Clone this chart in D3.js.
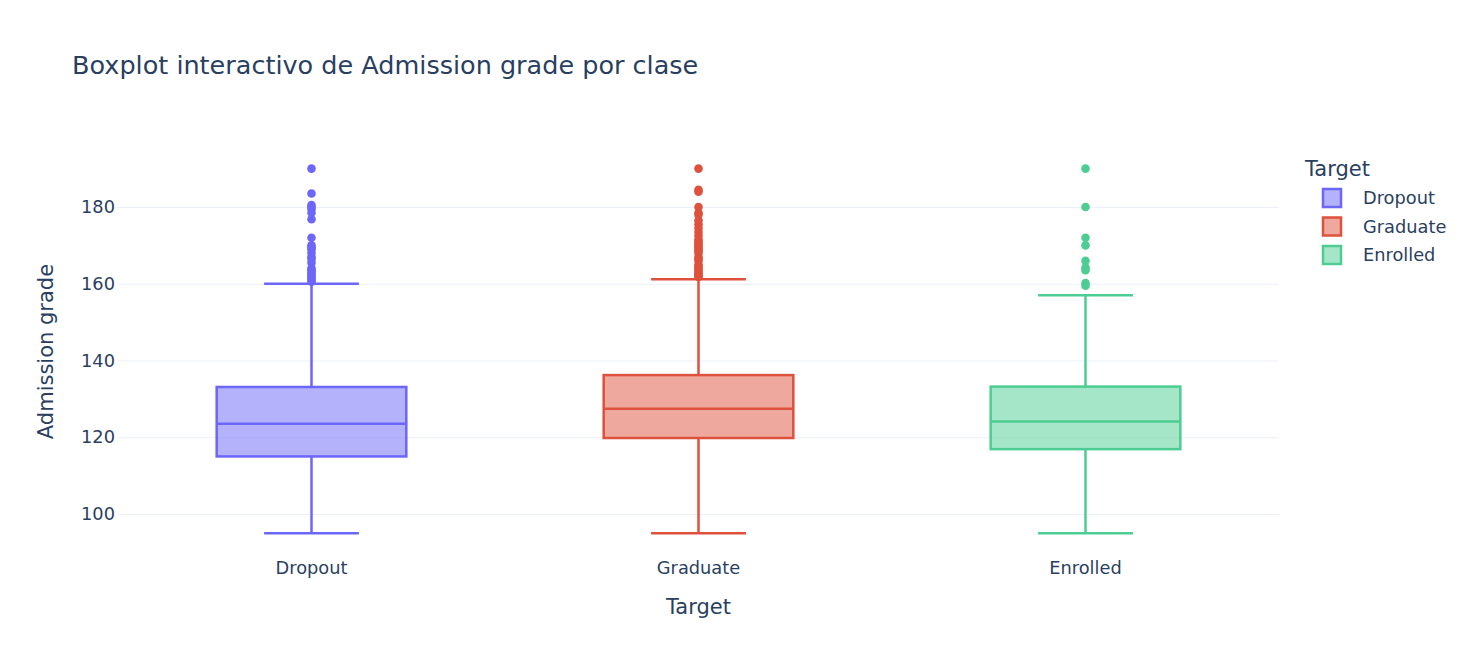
<!DOCTYPE html>
<html>
<head>
<meta charset="utf-8">
<script src="https://cdn.jsdelivr.net/npm/d3@7/dist/d3.min.js"></script>
<style>
  html, body { margin: 0; padding: 0; background: #fff; }
  svg { display: block; }
  text { font-family: "DejaVu Sans", Verdana, sans-serif; fill: #2a3f5f; }
</style>
</head>
<body>
<svg id="chart" width="1467" height="672"></svg>
<script>
// ---- data ----
const categories = ["Dropout", "Graduate", "Enrolled"];
const lowerFence = [95, 95, 95];
const q1 = [115, 119.8, 116.9];
const median = [123.5, 127.4, 124.1];
const q3 = [133.1, 136.2, 133.2];
const upperFence = [160, 161.2, 157];
const outliersDropout = [190, 183.5, 180.5, 180, 179.5, 178.5, 176.8, 172, 170, 169.5, 169, 168, 167, 166.5, 165.5, 164, 163.5, 163, 162.5, 162, 161.5, 161, 160.5];
const outliersGraduate = [190, 184.5, 184, 180, 178.5, 178, 176.5, 175.5, 174.5, 173.5, 172.5, 171.5, 171, 170.5, 170, 169.5, 169, 168.5, 168, 167, 166.5, 166, 165, 164.5, 164, 163.5, 163, 162.5, 162, 161.8];
const outliersEnrolled = [190, 180, 172, 170, 166, 164.2, 163.5, 160.2, 159.5];
const yTicks = [100, 120, 140, 160, 180];
const legendTitle = "Target";
const chartTitle = "Boxplot interactivo de Admission grade por clase";
const xTitle = "Target";
const yTitle = "Admission grade";

const outliers = [outliersDropout, outliersGraduate, outliersEnrolled];
const colors = ["#6c66f9", "#dd513d", "#4dcd91"];

// ---- layout ----
const W = 1467, H = 672;
const plot = { left: 118, right: 1279, top: 150, bottom: 553 };
const yDomain = [89.84, 194.85];
const FONT = '"DejaVu Sans", Verdana, sans-serif';

const svg = d3.select("#chart");

const x = d3.scaleBand().domain(categories).range([plot.left, plot.right]).paddingInner(0).paddingOuter(0);
const y = d3.scaleLinear().domain(yDomain).range([plot.bottom, plot.top]);

// grid lines + y ticks
const yAxis = d3.axisLeft(y).tickValues(yTicks).tickSize(-(plot.right - plot.left)).tickPadding(4);
const gy = svg.append("g").attr("transform", `translate(${plot.left},0)`).call(yAxis);
gy.select(".domain").remove();
gy.selectAll(".tick line").attr("stroke", "#ebf0f8").attr("stroke-width", 1);
gy.selectAll(".tick text").attr("font-size", 17.8).attr("fill", "#2a3f5f").attr("x", -3)
  .style("font-family", FONT);

const xAxis = d3.axisBottom(x).tickSize(0).tickPadding(8);
const gx = svg.append("g").attr("transform", `translate(0,${plot.bottom})`).call(xAxis);
gx.select(".domain").remove();
gx.selectAll(".tick text").attr("font-size", 17.8).attr("fill", "#2a3f5f").attr("dy", "0.71em")
  .attr("y", 8).style("font-family", FONT);

// boxes
const boxW = x.bandwidth() * 0.49;
const capW = boxW / 2;
const sw = 2.5;

categories.forEach((c, i) => {
  const cx = x(c) + x.bandwidth() / 2;
  const g = svg.append("g");
  const col = colors[i];
  g.append("line").attr("x1", cx).attr("x2", cx).attr("y1", y(lowerFence[i])).attr("y2", y(q1[i]))
    .attr("stroke", col).attr("stroke-width", sw);
  g.append("line").attr("x1", cx).attr("x2", cx).attr("y1", y(q3[i])).attr("y2", y(upperFence[i]))
    .attr("stroke", col).attr("stroke-width", sw);
  g.append("line").attr("x1", cx - capW / 2).attr("x2", cx + capW / 2).attr("y1", y(lowerFence[i])).attr("y2", y(lowerFence[i]))
    .attr("stroke", col).attr("stroke-width", sw);
  g.append("line").attr("x1", cx - capW / 2).attr("x2", cx + capW / 2).attr("y1", y(upperFence[i])).attr("y2", y(upperFence[i]))
    .attr("stroke", col).attr("stroke-width", sw);
  g.append("rect").attr("x", cx - boxW / 2).attr("width", boxW)
    .attr("y", y(q3[i])).attr("height", y(q1[i]) - y(q3[i]))
    .attr("fill", col).attr("fill-opacity", 0.5).attr("stroke", col).attr("stroke-width", sw);
  g.append("line").attr("x1", cx - boxW / 2).attr("x2", cx + boxW / 2).attr("y1", y(median[i])).attr("y2", y(median[i]))
    .attr("stroke", col).attr("stroke-width", sw);
  g.selectAll("circle.o").data(outliers[i]).enter().append("circle")
    .attr("class", "o").attr("cx", cx).attr("cy", d => y(d)).attr("r", 4.3).attr("fill", col);
});

// title
svg.append("text").attr("x", 72).attr("y", 74).attr("font-size", 25.5).text(chartTitle);

// axis titles
svg.append("text").attr("x", (plot.left + plot.right) / 2).attr("y", 614).attr("text-anchor", "middle")
  .attr("font-size", 21).text(xTitle);
svg.append("text").attr("transform", `translate(53,${(plot.top + plot.bottom) / 2}) rotate(-90)`)
  .attr("text-anchor", "middle").attr("font-size", 21).text(yTitle);

// legend
const lg = svg.append("g");
lg.append("text").attr("x", 1305).attr("y", 176).attr("font-size", 21).text(legendTitle);
categories.forEach((c, i) => {
  const cy = 198 + i * 28.5;
  lg.append("rect").attr("x", 1323).attr("y", cy - 9).attr("width", 18).attr("height", 18)
    .attr("fill", colors[i]).attr("fill-opacity", 0.5).attr("stroke", colors[i]).attr("stroke-width", 2.5);
  lg.append("text").attr("x", 1363).attr("y", cy).attr("dy", "0.35em").attr("font-size", 17.8).text(c);
});
</script>
</body>
</html>
